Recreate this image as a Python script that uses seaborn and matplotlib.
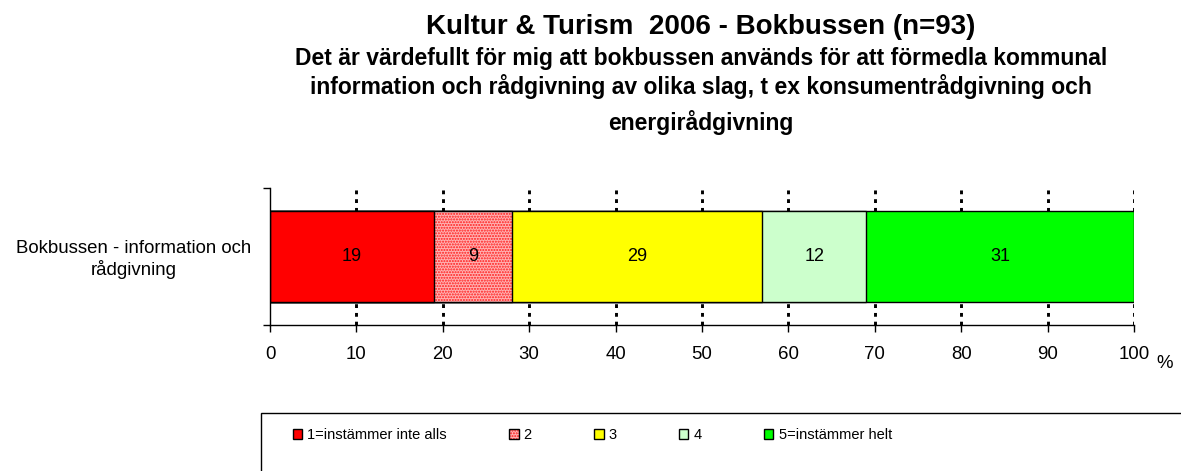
import numpy as np
import pandas as pd
import matplotlib
matplotlib.use("Agg")
import matplotlib.pyplot as plt
from matplotlib.patches import Rectangle, Patch
from matplotlib.legend_handler import HandlerTuple
import seaborn as sns

# data
category = "Bokbussen - information och\nrådgivning"
labels = ["1=instämmer inte alls", "2", "3", "4", "5=instämmer helt"]
values = [19, 9, 29, 12, 31]
colors = ["#ff0000", "#ffb3b3", "#ffff00", "#ccffcc", "#00ff00"]
x_ticks = [0, 10, 20, 30, 40, 50, 60, 70, 80, 90, 100]

sns.set_style("white")
plt.rcParams["font.family"] = ["Liberation Sans", "DejaVu Sans"]
plt.rcParams["text.color"] = "black"
plt.rcParams["xtick.color"] = "black"
plt.rcParams["ytick.color"] = "black"
plt.rcParams["axes.labelcolor"] = "black"

W, H = 1181, 471
fig = plt.figure(figsize=(W / 100, H / 100), dpi=100)
ax = fig.add_axes([270 / W, 1 - 325 / H, (1134 - 270) / W, (325 - 188) / H])

cum = np.cumsum(values)
df = pd.DataFrame({"label": labels, "value": values, "end": cum})

# stacked bars: cumulative totals drawn from largest to smallest
for i in range(len(values) - 1, -1, -1):
    row = df.iloc[i]
    if i == 1:
        sns.barplot(x=[row["end"]], y=[category], color=colors[i], width=0.657,
                    edgecolor="#ff1a1a", linewidth=0, hatch="......",
                    saturation=1, ax=ax, zorder=2)
        sns.barplot(x=[row["end"]], y=[category], color="black", width=0.657,
                    fill=False, linewidth=1.0, ax=ax, zorder=2)
    else:
        sns.barplot(x=[row["end"]], y=[category], color=colors[i], width=0.657,
                    edgecolor="black", linewidth=1.0, saturation=1, ax=ax, zorder=2)

# segment labels
for v, e in zip(values, cum):
    ax.text(e - v / 2, 0, str(v), ha="center", va="center", fontsize=13, zorder=5)

ax.set_xlim(0, 100)
ax.set_ylim(0.5, -0.5)
ax.set_xticks(x_ticks)
ax.set_xticklabels([str(t) for t in x_ticks], fontsize=13.4)
ax.set_yticks([-0.5, 0.5])
ax.set_yticklabels(["", ""])
ax.set_yticks([0], minor=True)
ax.set_yticklabels([category], minor=True, fontsize=13.4, ha="center")
ax.tick_params(axis="y", which="minor", length=0, pad=98)
ax.tick_params(axis="y", which="major", direction="out", length=5, width=1, left=True)
ax.tick_params(axis="x", direction="out", length=5, width=1, bottom=True, pad=10)
ax.set_xlabel("")
ax.set_ylabel("")

ax.grid(axis="x", color="black", linestyle=(0, (1.3, 1.7)), linewidth=2.1, zorder=0)
ax.set_axisbelow(True)
ax.xaxis.get_gridlines()[0].set_visible(False)
for s in ["top", "right"]:
    ax.spines[s].set_visible(False)
for s in ["left", "bottom"]:
    ax.spines[s].set_color("black")
    ax.spines[s].set_linewidth(1.0)

fig.text(1165 / W, 1 - 364 / H, "%", fontsize=13.4, ha="center", va="center")

# titles
fig.text(701 / W, 1 - 34 / H, "Kultur & Turism  2006 - Bokbussen (n=93)",
         fontsize=20, fontweight="bold", ha="center", va="baseline")
sub = ["Det är värdefullt för mig att bokbussen används för att förmedla kommunal",
       "information och rådgivning av olika slag, t ex konsumentrådgivning och",
       "energirådgivning"]
for line, yy in zip(sub, [65, 94, 130]):
    fig.text(701 / W, 1 - yy / H, line, fontsize=16.5, fontweight="bold",
             ha="center", va="baseline")

# legend
if ax.get_legend() is not None:
    ax.get_legend().remove()
handles = []
for i, c in enumerate(colors):
    if i == 1:
        handles.append((Patch(facecolor=c, edgecolor="#ff1a1a", hatch="......", linewidth=0),
                        Patch(facecolor="none", edgecolor="black", linewidth=1.0)))
    else:
        handles.append(Patch(facecolor=c, edgecolor="black", linewidth=1.0))
fig.legend(handles, labels, loc="center left", bbox_to_anchor=(293 / W, 1 - 435 / H),
           ncol=5, frameon=False, fontsize=10.5, handlelength=0.62, handleheight=0.62,
           handletextpad=0.35, columnspacing=4.3, borderpad=0, borderaxespad=0,
           handler_map={tuple: HandlerTuple(ndivide=1, pad=0)})
fig.patches.append(Rectangle((261 / W, -0.02), 1.0, (H - 413) / H + 0.02,
                             transform=fig.transFigure, fill=False,
                             edgecolor="black", linewidth=1))

fig.savefig("out.png", dpi=100)
